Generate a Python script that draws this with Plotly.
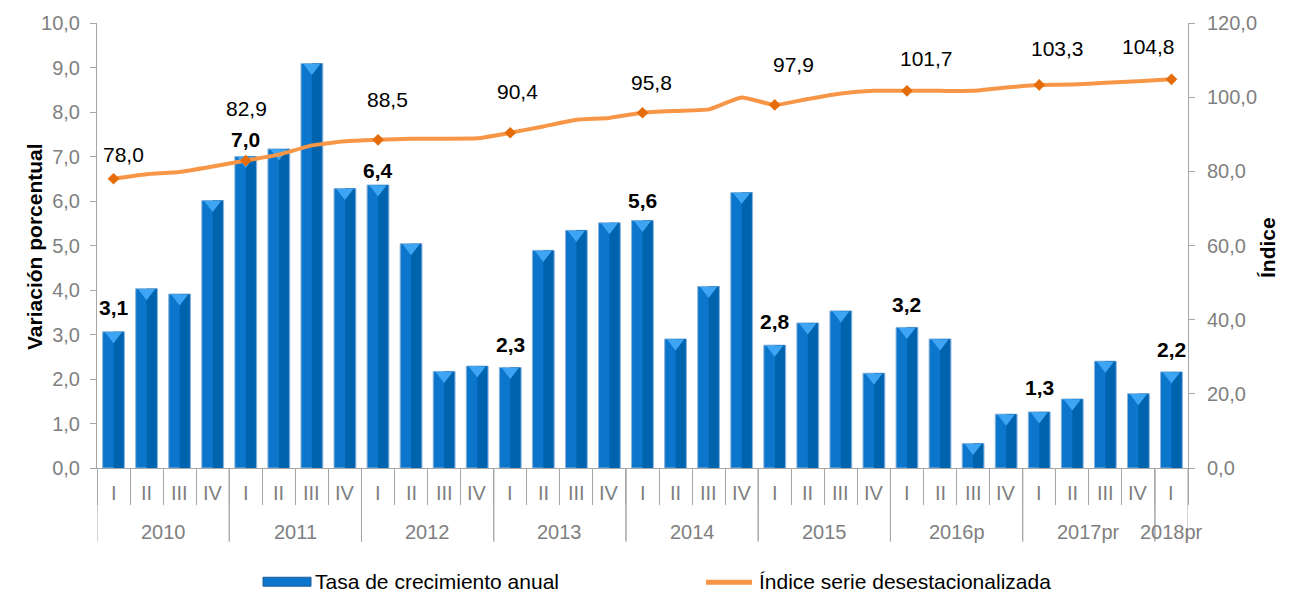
import plotly.graph_objects as go

# ---------------- data ----------------
years = ["2010"] * 4 + ["2011"] * 4 + ["2012"] * 4 + ["2013"] * 4 + ["2014"] * 4 + \
        ["2015"] * 4 + ["2016p"] * 4 + ["2017pr"] * 4 + ["2018pr"]
quarters = ["I", "II", "III", "IV"] * 8 + ["I"]

growth = [3.06, 4.03, 3.91, 6.01, 7.00, 7.17, 9.09, 6.28,
          6.36, 5.04, 2.17, 2.29, 2.26, 4.89, 5.34, 5.51,
          5.56, 2.90, 4.08, 6.19, 2.76, 3.26, 3.53, 2.13,
          3.16, 2.90, 0.55, 1.21, 1.26, 1.55, 2.40, 1.67,
          2.16]

index_sa = [78.0, 79.2, 79.8, 81.3, 82.9, 84.5, 87.0, 88.1,
            88.5, 88.8, 88.8, 88.9, 90.4, 92.1, 93.9, 94.4,
            95.8, 96.3, 96.7, 99.9, 97.9, 99.5, 101.0, 101.7,
            101.7, 101.7, 101.7, 102.6, 103.3, 103.4, 103.9, 104.3,
            104.8]

bar_name = "Tasa de crecimiento anual"
line_name = "Índice serie desestacionalizada"
left_title = "Variación porcentual"
right_title = "Índice"

# label offsets (pixels) for the labelled first-quarter points
bar_label_shift = [24, 17, 14, 23, 20, 24, 23, 24, 22]
line_label_dx = [10, 1, 9, 7, 9, 19, 20, 18, -23]
line_label_dy = [24, 52, 40, 41, 30, 40, 32, 36, 33]

# ---------------- geometry ----------------
W, H = 1299, 596
L, R, T, B = 97, 111, 20, 128
PW, PH = W - L - R, H - T - B


def px_x(px):
    return (px - L) / PW


def px_y(py):
    return (H - B - py) / PH


FONT = "Liberation Sans, Arial, sans-serif"
GRAY = "#7F7F7F"
AXIS = "#A6A6A6"
BAR = "#0B76CC"
BAR_DARK = "#0063AE"
LINE = "#F79646"
MARK = "#E46C0A"

cats = [f"{y}-{q}" for y, q in zip(years, quarters)]
n = len(cats)
BW = 0.66


def fmt(v):
    return f"{v:.1f}".replace(".", ",")


fig = go.Figure()

fig.add_trace(go.Bar(
    x=cats, y=growth, name=bar_name, width=BW, offset=-BW / 2,
    marker=dict(color=BAR, line=dict(color="#8DB3DA", width=1)),
    showlegend=False, hoverinfo="skip",
))
# darker right half (shading)
fig.add_trace(go.Bar(
    x=cats, y=growth, width=BW / 2 - 0.03, offset=0.0,
    marker=dict(color=BAR_DARK, line=dict(width=0)),
    showlegend=False, hoverinfo="skip",
))
# bevel highlight at bar tops
fig.add_trace(go.Scatter(
    x=cats, y=[v - 0.09 for v in growth], mode="markers",
    marker=dict(symbol="triangle-down", size=15, color="#3DA5F4", line=dict(width=0)),
    showlegend=False, hoverinfo="skip",
))

fig.add_trace(go.Scatter(
    x=cats, y=index_sa, name=line_name, yaxis="y2", mode="lines",
    line=dict(color=LINE, width=4, shape="spline", smoothing=0.4),
    showlegend=False, hoverinfo="skip",
))
first_idx = [i for i, q in enumerate(quarters) if q == "I"]
fig.add_trace(go.Scatter(
    x=[cats[i] for i in first_idx], y=[index_sa[i] for i in first_idx],
    yaxis="y2", mode="markers",
    marker=dict(symbol="diamond", size=9, color=MARK),
    showlegend=False, hoverinfo="skip",
))

annotations = []
shapes = []

# data labels
for k, i in enumerate(first_idx):
    annotations.append(dict(
        x=i, y=growth[i], xref="x", yref="y", text=f"<b>{fmt(growth[i])}</b>",
        showarrow=False, yanchor="middle", yshift=bar_label_shift[k],
        font=dict(family=FONT, size=21, color="black")))
    annotations.append(dict(
        x=i, y=index_sa[i], xref="x", yref="y2", text=fmt(index_sa[i]),
        showarrow=False, yanchor="middle", yshift=line_label_dy[k], xshift=line_label_dx[k],
        font=dict(family=FONT, size=21, color="black")))

# quarter labels
for i, q in enumerate(quarters):
    annotations.append(dict(
        x=i, y=px_y(493), xref="x", yref="paper", text=q, showarrow=False,
        yanchor="middle", font=dict(family=FONT, size=20, color=GRAY)))

# year labels and dividers
groups = []
for i, y in enumerate(years):
    if not groups or groups[-1][0] != y:
        groups.append([y, i, i])
    else:
        groups[-1][2] = i
for y, a, b in groups:
    annotations.append(dict(
        x=(a + b) / 2, y=px_y(532), xref="x", yref="paper", text=y, showarrow=False,
        yanchor="middle", font=dict(family=FONT, size=20, color=GRAY)))
    for xb in (a - 0.5, b + 0.5):
        shapes.append(dict(type="line", xref="x", yref="paper", x0=xb, x1=xb,
                           y0=0, y1=px_y(542), line=dict(color=AXIS, width=1)))

# axis titles
annotations.append(dict(
    x=px_x(21), y=px_y(245), xref="paper", yref="paper", text=f"<b>{left_title}</b>",
    textangle=-90, showarrow=False, font=dict(family=FONT, size=21, color="black")))
annotations.append(dict(
    x=px_x(1281), y=px_y(246), xref="paper", yref="paper", text=f"<b>{right_title}</b>",
    textangle=-90, showarrow=False, font=dict(family=FONT, size=21, color="black")))

# custom legend
shapes.append(dict(type="rect", xref="paper", yref="paper",
                   x0=px_x(263), x1=px_x(311), y0=px_y(578), y1=px_y(587),
                   fillcolor=BAR, line=dict(color="#1F5F99", width=1)))
annotations.append(dict(
    x=px_x(313), y=px_y(582), xref="paper", yref="paper", text=bar_name,
    xanchor="left", yanchor="middle", showarrow=False,
    font=dict(family=FONT, size=21, color="black")))
shapes.append(dict(type="line", xref="paper", yref="paper",
                   x0=px_x(706), x1=px_x(752), y0=px_y(583), y1=px_y(583),
                   line=dict(color=LINE, width=5)))
annotations.append(dict(
    x=px_x(757), y=px_y(582), xref="paper", yref="paper", text=line_name,
    xanchor="left", yanchor="middle", showarrow=False,
    font=dict(family=FONT, size=21, color="black")))

fig.update_layout(
    width=W, height=H,
    margin=dict(l=L, r=R, t=T, b=B, pad=0),
    paper_bgcolor="white", plot_bgcolor="white",
    separators=",.",
    barmode="overlay",
    showlegend=False,
    font=dict(family=FONT, size=20, color=GRAY),
    xaxis=dict(
        type="category", categoryorder="array", categoryarray=cats,
        range=[-0.5, n - 0.5],
        showline=True, linecolor=AXIS, linewidth=1,
        ticks="outside", tickson="boundaries", ticklen=36, tickcolor=AXIS, tickwidth=1,
        showticklabels=False, showgrid=False, zeroline=False, fixedrange=True,
    ),
    yaxis=dict(
        range=[0, 10], dtick=1, tickformat=".1f",
        showline=True, linecolor=AXIS, linewidth=1,
        ticks="outside", ticklen=6, tickcolor=AXIS,
        ticklabelstandoff=6,
        tickfont=dict(family=FONT, size=20, color=GRAY),
        showgrid=False, zeroline=False,
    ),
    yaxis2=dict(
        range=[0, 120], dtick=20, tickformat=".1f",
        overlaying="y", side="right",
        showline=True, linecolor=AXIS, linewidth=1,
        ticks="outside", ticklen=6, tickcolor=AXIS,
        ticklabelstandoff=8,
        tickfont=dict(family=FONT, size=20, color=GRAY),
        showgrid=False, zeroline=False,
    ),
    annotations=annotations,
    shapes=shapes,
)

fig.write_html(
    "out.html",
    config={"displayModeBar": False},
    post_script="document.body.style.margin='0';document.body.style.overflow='hidden';",
)
